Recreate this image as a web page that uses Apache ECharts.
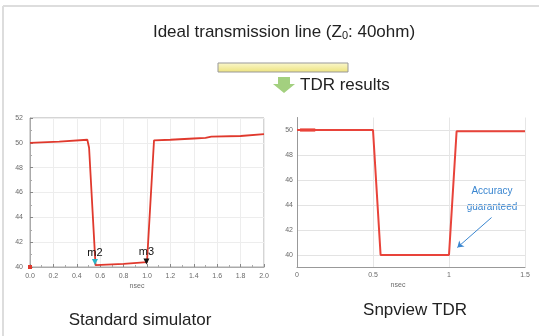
<!DOCTYPE html>
<html lang="en">
<head>
    <meta charset="UTF-8">
    <title>TDR results</title>
    <script src="https://cdn.jsdelivr.net/npm/echarts@6/dist/echarts.min.js"></script>
    <style>
        *{
            margin:0;
            padding:0;
            overflow: hidden;
        }
        .main{
            width:539px;
            height:336px;
            background-color:#fff;
        }
    </style>
</head>
<body>
    <div class="main"></div>
    <script>
        // standard simulator trace (nsec, ohm)
        var simX = [0, 0.25, 0.49, 0.505, 0.56, 0.8, 1.0, 1.06, 1.2, 1.4, 1.5, 1.55, 1.8, 2.0]
        var simY = [50.0, 50.1, 50.25, 49.6, 40.15, 40.25, 40.4, 50.2, 50.25, 50.35, 50.4, 50.5, 50.55, 50.7]
        // markers m2, m3
        var markerNames = ['m2', 'm3']
        var markerX = [0.555, 0.995]
        var markerY = [40.4, 40.45]
        // snpview trace
        var snpX = [0, 0.5, 0.55, 1.0, 1.05, 1.5]
        var snpY = [50.0, 50.0, 40.0, 40.0, 49.9, 49.9]
        var leftTicksX = ['0.0', '0.2', '0.4', '0.6', '0.8', '1.0', '1.2', '1.4', '1.6', '1.8', '2.0']
        var rightTicksY = [40, 42, 44, 46, 48, 50]

        var sim = simX.map(function (x, i) { return [x, simY[i]] })
        var snp = snpX.map(function (x, i) { return [x, snpY[i]] })

        var lblStyle = { fontSize: 7, color: '#6a6a6a', fontFamily: 'Liberation Sans' }
        var bigFont = '17px "Liberation Sans"'

        var myChart = echarts.init(document.querySelector('.main'), null, { renderer: 'canvas' })
        var option = {
            animation: false,
            grid: [
                { left: 30, right: 275, top: 118, bottom: 69, show: true, borderColor: '#aaa', borderWidth: 1 },
                { left: 297, right: 14, top: 117.5, bottom: 68.5 }
            ],
            xAxis: [
                {
                    gridIndex: 0, type: 'value', min: 0, max: 2, interval: 0.2,
                    name: 'nsec', nameLocation: 'middle', nameGap: 16,
                    nameTextStyle: { fontSize: 7, color: '#6a6a6a', padding: [0, 20, 0, 0] },
                    axisLine: { show: true, lineStyle: { color: '#aaa' } },
                    axisTick: { show: true, inside: true, length: 3, lineStyle: { color: '#888' } },
                    minorTick: { show: true, splitNumber: 2, length: 2, lineStyle: { color: '#aaa' } },
                    axisLabel: Object.assign({ margin: 6, formatter: function (v) { return leftTicksX[Math.round(v * 5)] } }, lblStyle),
                    splitLine: { show: true, lineStyle: { color: '#ededed' } }
                },
                {
                    gridIndex: 1, type: 'value', min: 0, max: 1.5, interval: 0.5,
                    name: 'nsec', nameLocation: 'middle', nameGap: 14,
                    nameTextStyle: { fontSize: 7, color: '#6a6a6a', padding: [0, 26, 0, 0] },
                    axisLine: { show: true, lineStyle: { color: '#999' } },
                    axisTick: { show: false },
                    axisLabel: Object.assign({ margin: 4 }, lblStyle),
                    splitLine: { show: true, lineStyle: { color: '#e6e6e6' } }
                }
            ],
            yAxis: [
                {
                    gridIndex: 0, type: 'value', min: 40, max: 52, interval: 2,
                    axisLine: { show: true, lineStyle: { color: '#aaa' } },
                    axisTick: { show: true, inside: true, length: 3, lineStyle: { color: '#888' } },
                    minorTick: { show: true, splitNumber: 2, length: 2, lineStyle: { color: '#aaa' } },
                    axisLabel: Object.assign({ margin: 7 }, lblStyle),
                    splitLine: { show: true, lineStyle: { color: '#ededed' } }
                },
                {
                    gridIndex: 1, type: 'value', min: 39, max: 51, interval: 1,
                    axisLine: { show: true, lineStyle: { color: '#999' } },
                    axisTick: { show: false },
                    axisLabel: Object.assign({
                        margin: 4,
                        formatter: function (v) { return rightTicksY.indexOf(v) >= 0 ? v : '' }
                    }, lblStyle),
                    // every other line transparent -> lines only at even values
                    splitLine: { show: true, lineStyle: { color: ['rgba(0,0,0,0)', '#e3e3e3'] } }
                }
            ],
            series: [
                {
                    type: 'line', xAxisIndex: 0, yAxisIndex: 0, data: sim,
                    symbol: 'none', lineStyle: { color: '#e0392d', width: 1.8 },
                    markPoint: {
                        symbol: 'triangle', symbolRotate: 180, symbolSize: 6,
                        label: { show: true, position: 'top', distance: 1, fontSize: 11, color: '#111', formatter: '{b}' },
                        data: [
                            { name: markerNames[0], coord: [markerX[0], markerY[0]], itemStyle: { color: '#29b6c8' } },
                            { name: markerNames[1], coord: [markerX[1], markerY[1]], itemStyle: { color: '#111' } },
                            { name: '', coord: [0, 40], symbol: 'rect', symbolRotate: 0, symbolSize: 4, itemStyle: { color: '#e0392d' }, label: { show: false } }
                        ]
                    }
                },
                {
                    type: 'line', xAxisIndex: 1, yAxisIndex: 1, data: snp,
                    symbol: 'none', lineStyle: { color: '#e8433a', width: 2 },
                    markLine: {
                        silent: true, symbol: ['none', 'arrow'], symbolSize: 6,
                        lineStyle: { color: '#3a86d0', width: 1, type: 'solid' },
                        label: { show: false },
                        data: [[{ coord: [1.28, 43.0] }, { coord: [1.055, 40.6] }]]
                    }
                },
                {
                    // thick start of the snpview trace
                    type: 'line', xAxisIndex: 1, yAxisIndex: 1, data: [[0.02, 50], [0.12, 50]],
                    symbol: 'none', lineStyle: { color: '#e8433a', width: 3.5, opacity: 0.8 }
                }
            ],
            graphic: [
                { type: 'line', shape: { x1: 3, y1: 6, x2: 539, y2: 6 }, style: { stroke: '#ddd', lineWidth: 2 } },
                { type: 'line', shape: { x1: 3, y1: 6, x2: 3, y2: 336 }, style: { stroke: '#ddd', lineWidth: 2 } },
                {
                    type: 'text', x: 284, y: 32,
                    style: {
                        text: '{t|Ideal transmission line (Z}{s|0}{t|: 40ohm)}',
                        align: 'center', verticalAlign: 'middle', fill: '#222',
                        rich: {
                            t: { fontSize: 17, fontFamily: 'Liberation Sans', fill: '#222' },
                            s: { fontSize: 11, fontFamily: 'Liberation Sans', fill: '#222', padding: [8, 0, 0, 0] }
                        }
                    }
                },
                {
                    type: 'rect', shape: { x: 218, y: 63, width: 130, height: 9 },
                    style: {
                        stroke: '#999', lineWidth: 1,
                        fill: new echarts.graphic.LinearGradient(0, 0, 0, 1, [
                            { offset: 0, color: '#fbf8cf' }, { offset: 1, color: '#ece27c' }
                        ])
                    }
                },
                {
                    type: 'polygon',
                    shape: { points: [[278, 77], [290, 77], [290, 84], [295, 84], [284, 93], [273, 84], [278, 84]] },
                    style: { fill: '#a3d07f' }
                },
                { type: 'text', x: 300, y: 85, style: { text: 'TDR results', font: bigFont, fill: '#222', verticalAlign: 'middle' } },
                { type: 'text', x: 140, y: 320, style: { text: 'Standard simulator', font: bigFont, fill: '#222', align: 'center', verticalAlign: 'middle' } },
                { type: 'text', x: 415, y: 310, style: { text: 'Snpview TDR', font: bigFont, fill: '#222', align: 'center', verticalAlign: 'middle' } },
                {
                    type: 'text', x: 492, y: 199,
                    style: { text: 'Accuracy\nguaranteed', font: '10px "Liberation Sans"', lineHeight: 16, fill: '#3a86d0', align: 'center', verticalAlign: 'middle' }
                }
            ]
        }
        myChart.setOption(option)
    </script>
</body>
</html>
